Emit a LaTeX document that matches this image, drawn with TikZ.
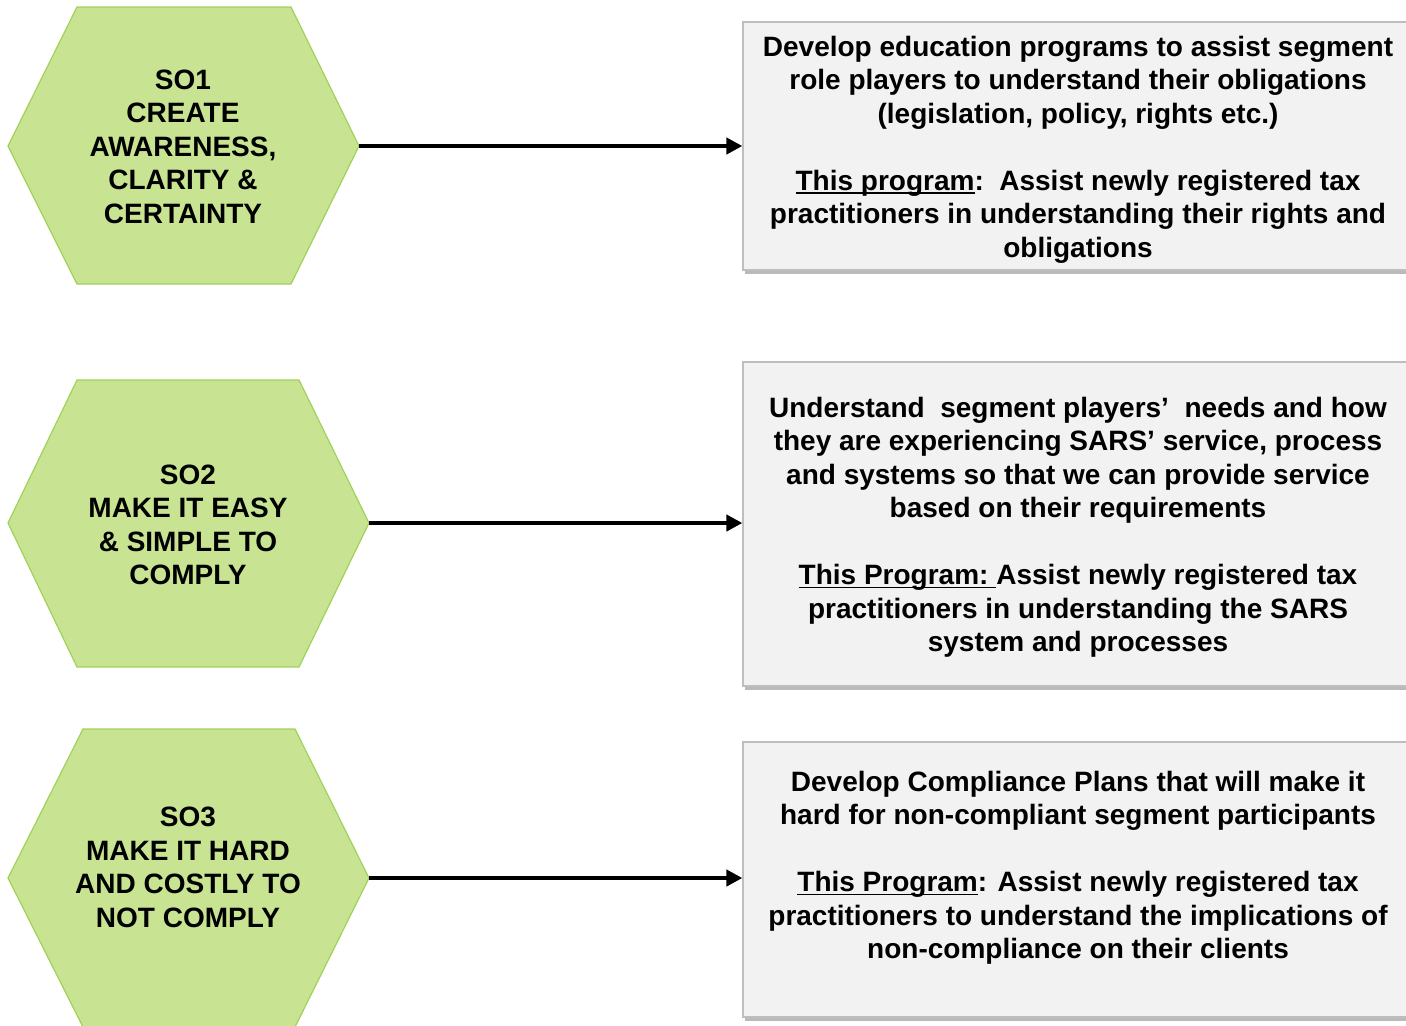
\documentclass[tikz,border=0pt]{standalone}
\usepackage{fontspec}
\setmainfont{Liberation Sans}
\usepackage{tikz}
\usetikzlibrary{arrows.meta,shadows}

\definecolor{hexgreen}{RGB}{200,228,146}
\definecolor{hexline}{RGB}{160,210,90}
\definecolor{boxgray}{RGB}{242,242,242}
\definecolor{boxline}{RGB}{190,190,190}

% underline sitting just below the baseline
\newsavebox{\ulbox}
\newcommand{\progul}[1]{\sbox{\ulbox}{#1}\rlap{\rule[-1.8pt]{\wd\ulbox}{0.7pt}}\usebox{\ulbox}}

\begin{document}
\begin{tikzpicture}[x=0.5pt,y=-0.5pt,
  hex/.style={fill=hexgreen,draw=hexline,line width=0.6pt},
  hextext/.style={align=center,font=\bfseries\fontsize{14}{16.75}\selectfont},
  progbox/.style={rectangle,fill=boxgray,draw=boxline,line width=0.6pt,minimum width=335pt,
    drop shadow={shadow xshift=0.8pt,shadow yshift=-1.8pt,fill=black!45,opacity=0.6}},
  progtext/.style={align=center,font=\bfseries\fontsize{14}{16.75}\selectfont},
  link/.style={-{Triangle[length=8pt,width=8pt]},line width=2pt}]
  \useasboundingbox (0,0) rectangle (1406,1025);

  % strategic objectives
  \draw[hex] (8,146) -- (77,7) -- (291,7) -- (359,146) coordinate (so1e) -- (291,284) -- (77,284) -- cycle;
  \draw[hex] (8,523) -- (77,380) -- (299,380) -- (369,523) coordinate (so2e) -- (299,667) -- (77,667) -- cycle;
  \draw[hex] (8,878) -- (83,729) -- (295,729) -- (369,878) coordinate (so3e) -- (295,1027) -- (83,1027) -- cycle;
  \node[hextext] (so1) at (183,146.5) {SO1\\CREATE\\AWARENESS,\\CLARITY \&\\CERTAINTY};
  \node[hextext] (so2) at (188,525) {SO2\\MAKE IT EASY\\\& SIMPLE TO\\COMPLY};
  \node[hextext] (so3) at (188,867.5) {SO3\\MAKE IT HARD\\AND COSTLY TO\\NOT COMPLY};

  % programs
  \node[progbox,minimum height=124pt] (p1) at (1078,146) {};
  \node[progbox,minimum height=162pt] (p2) at (1078,524) {};
  \node[progbox,minimum height=137.5pt] (p3) at (1078,879.5) {};
  \node[progtext] (p1text) at ([yshift=-1.75pt]p1.center) {Develop education programs to assist segment\\
    role players to understand their obligations\\(legislation, policy, rights etc.)\\[16.75pt]
    \progul{This program}:\ \ Assist newly registered tax\\
    practitioners in understanding their rights and\\obligations};
  \node[progtext] (p2text) at ([yshift=-1.5pt]p2.center) {Understand\ \ segment players’\ \ needs and how\\
    they are experiencing SARS’ service, process\\and systems so that we can provide service\\
    based on their requirements\\[16.75pt]
    \progul{This Program:\ }Assist newly registered tax\\
    practitioners in understanding the SARS\\system and processes};
  \node[progtext] (p3text) at ([yshift=6pt]p3.center) {Develop Compliance Plans that will make it\\
    hard for non-compliant segment participants\\[16.75pt]
    \progul{This Program}: Assist newly registered tax\\
    practitioners to understand the implications of\\non-compliance on their clients};

  \draw[link] (so1e) -- (p1.west |- so1e);
  \draw[link] (so2e) -- (p2.west |- so2e);
  \draw[link] (so3e) -- (p3.west |- so3e);
\end{tikzpicture}
\end{document}
